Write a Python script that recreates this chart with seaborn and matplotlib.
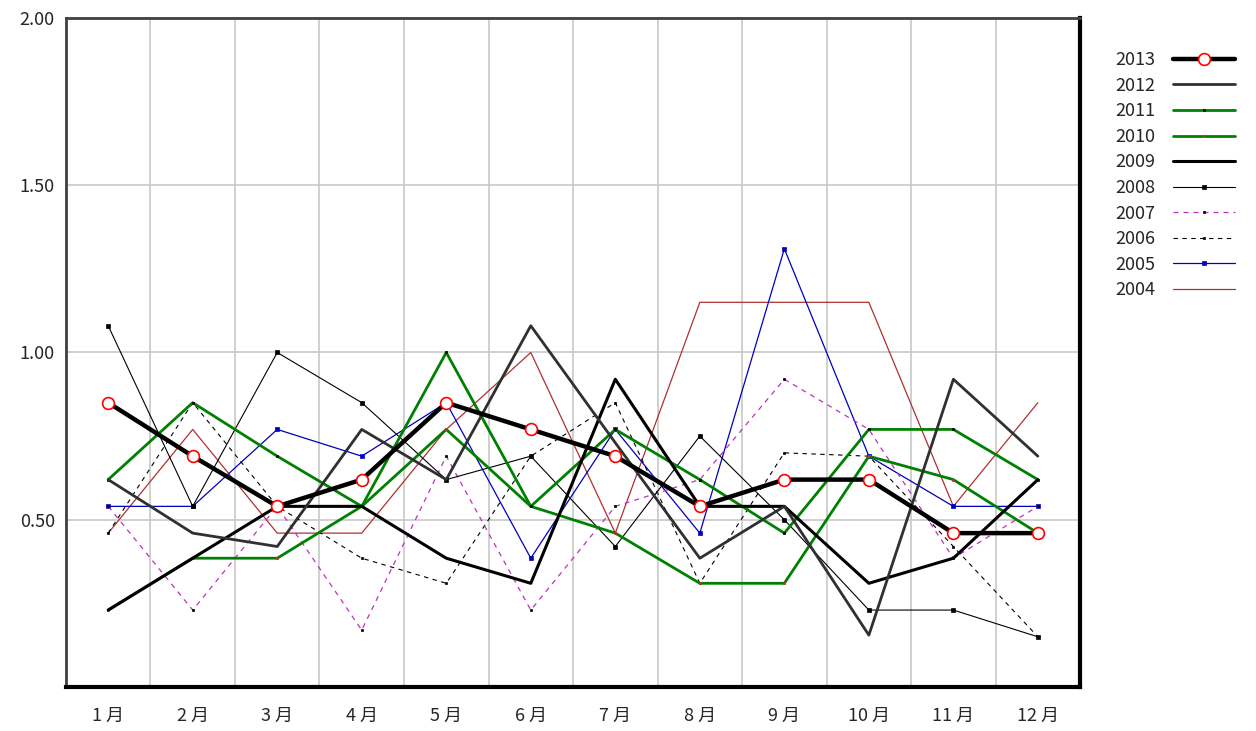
import numpy as np
import pandas as pd
import matplotlib
matplotlib.use('Agg')
import matplotlib.pyplot as plt
import seaborn as sns

# month labels and yearly series
months = ['1 月', '2 月', '3 月', '4 月', '5 月', '6 月', '7 月', '8 月', '9 月', '10 月', '11 月', '12 月']
years = ['2013', '2012', '2011', '2010', '2009', '2008', '2007', '2006', '2005', '2004']

v2013 = [0.85, 0.69, 0.54, 0.62, 0.85, 0.77, 0.69, 0.54, 0.62, 0.62, 0.46, 0.46]
v2012 = [0.62, 0.46, 0.42, 0.77, 0.62, 1.08, 0.73, 0.385, 0.54, 0.155, 0.92, 0.69]
v2011 = [0.62, 0.85, 0.69, 0.54, 1.00, 0.54, 0.77, 0.62, 0.46, 0.77, 0.77, 0.62]
v2010 = [0.23, 0.385, 0.385, 0.54, 0.77, 0.54, 0.46, 0.31, 0.31, 0.69, 0.62, 0.46]
v2009 = [0.23, 0.385, 0.54, 0.54, 0.385, 0.31, 0.92, 0.54, 0.54, 0.31, 0.385, 0.62]
v2008 = [1.08, 0.54, 1.00, 0.85, 0.62, 0.69, 0.42, 0.75, 0.50, 0.23, 0.23, 0.15]
v2007 = [0.54, 0.23, 0.54, 0.17, 0.69, 0.23, 0.54, 0.62, 0.92, 0.77, 0.385, 0.54]
v2006 = [0.46, 0.85, 0.54, 0.385, 0.31, 0.69, 0.85, 0.31, 0.70, 0.69, 0.42, 0.15]
v2005 = [0.54, 0.54, 0.77, 0.69, 0.85, 0.385, 0.77, 0.46, 1.31, 0.69, 0.54, 0.54]
v2004 = [0.46, 0.77, 0.46, 0.46, 0.77, 1.00, 0.46, 1.15, 1.15, 1.15, 0.54, 0.85]

series = {'2013': v2013, '2012': v2012, '2011': v2011, '2010': v2010, '2009': v2009,
          '2008': v2008, '2007': v2007, '2006': v2006, '2005': v2005, '2004': v2004}

# line styles per year
styles = {
    '2013': dict(color='black', lw=3.2, ls='-', marker='o', ms=8.5, mfc='white', mec='red', mew=1.2),
    '2012': dict(color='#303030', lw=2.0, ls='-', marker=None, ms=0, mfc='none', mec='none', mew=0),
    '2011': dict(color='#008000', lw=2.0, ls='-', marker='s', ms=2, mfc='black', mec='black', mew=0.5),
    '2010': dict(color='#008000', lw=2.0, ls='-', marker='s', ms=2, mfc='#c03030', mec='#c03030', mew=0.5),
    '2009': dict(color='black', lw=2.2, ls='-', marker=None, ms=0, mfc='none', mec='none', mew=0),
    '2008': dict(color='black', lw=0.8, ls='-', marker='s', ms=2.2, mfc='black', mec='black', mew=0.5),
    '2007': dict(color='#c030c0', lw=0.9, ls=(0, (4, 4)), marker='s', ms=2, mfc='black', mec='black', mew=0.5),
    '2006': dict(color='black', lw=0.8, ls=(0, (4, 4)), marker='s', ms=2, mfc='black', mec='black', mew=0.5),
    '2005': dict(color='#0000c0', lw=0.9, ls='-', marker='s', ms=2.5, mfc='#0000c0', mec='#0000c0', mew=0.5),
    '2004': dict(color='#b03030', lw=0.9, ls='-', marker=None, ms=0, mfc='none', mec='none', mew=0),
}

# drawing order (bottom to top)
draw_order = ['2004', '2005', '2006', '2007', '2008', '2010', '2011', '2009', '2012', '2013']

rows = []
for y in years:
    for i, v in enumerate(series[y]):
        rows.append({'year': y, 'month': i, 'value': v})
df = pd.DataFrame(rows)

sns.set_style('white')
plt.rcParams['font.family'] = ['Noto Sans CJK JP', 'DejaVu Sans']

fig = plt.figure(figsize=(12.56, 7.31), dpi=100)
ax = fig.add_axes([0.0525, 0.0602, 0.8075, 0.9152])

for y in draw_order:
    st = styles[y]
    d = df[df['year'] == y]
    sns.lineplot(data=d, x='month', y='value', ax=ax, color=st['color'], linewidth=st['lw'],
                 linestyle=st['ls'], marker=st['marker'], markersize=st['ms'],
                 markerfacecolor=st['mfc'], markeredgecolor=st['mec'], markeredgewidth=st['mew'],
                 sort=False, legend=False, label=y)

ax.set_xlim(-0.5, 11.5)
ax.set_ylim(0, 2.0)
ax.set_xticks(range(12))
ax.set_xticklabels(months, fontsize=13)
ax.set_xticks(np.arange(0.5, 11.5, 1), minor=True)
ax.tick_params(axis='x', which='major', length=0, pad=14)
ax.tick_params(axis='x', which='minor', length=4, width=1, color='black', direction='out')
ax.set_yticks([0.5, 1.0, 1.5, 2.0])
ax.set_yticklabels(['0.50', '1.00', '1.50', '2.00'], fontsize=13)
ax.tick_params(axis='y', length=0, pad=8)
ax.set_xlabel('')
ax.set_ylabel('')

ax.grid(True, which='minor', axis='x', color='#c8c8c8', lw=1.2)
ax.grid(True, which='major', axis='y', color='#c8c8c8', lw=1.2)
ax.grid(False, which='major', axis='x')
ax.set_axisbelow(True)

for s in ['left', 'top']:
    ax.spines[s].set_color('#404040')
    ax.spines[s].set_linewidth(2)
for s in ['right', 'bottom']:
    ax.spines[s].set_color('black')
    ax.spines[s].set_linewidth(3)

# legend on the right, text before the line sample, 2013 first
handles, labels = ax.get_legend_handles_labels()
order = [labels.index(y) for y in years]
leg = fig.legend([handles[i] for i in order], [labels[i] for i in order],
                 loc='upper left', bbox_to_anchor=(0.882, 0.940), frameon=False,
                 markerfirst=False, fontsize=13, handlelength=3.4, handletextpad=1.0,
                 labelspacing=0.42, borderaxespad=0)

fig.savefig('out.png', dpi=100)
